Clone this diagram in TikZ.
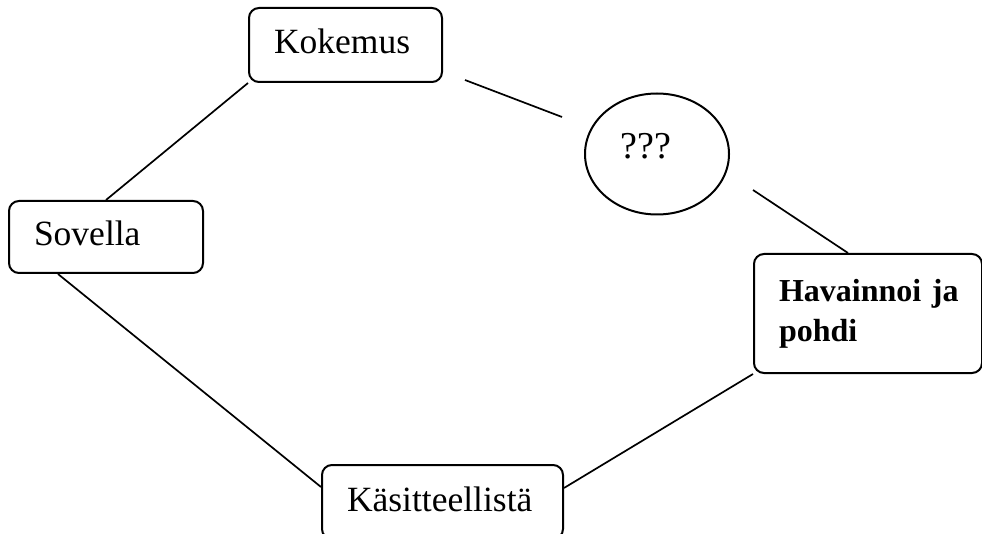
\documentclass[tikz,border=0pt]{standalone}
\usepackage{fontspec}
\setmainfont{Liberation Serif}
\usetikzlibrary{shapes.geometric,calc}
\tikzset{
  stagebox/.style={draw, rounded corners=10pt, line width=2pt, inner xsep=25pt, inner ysep=0pt,
    align=left, anchor=north west, font=\fontsize{35.5}{40}\selectfont},
  oneline/.style={text height=24pt, text depth=6pt},
  conn/.style={line width=1.7pt}
}
\begin{document}
\begin{tikzpicture}[x=1pt,y=-1pt]
\clip (0,0) rectangle (982,534);
\fill[white] (0,0) rectangle (982,534);

\node[stagebox, oneline, text width=143pt, minimum height=74pt] (kok) at (248,7) {Kokemus};
\node[stagebox, oneline, text width=144pt, minimum height=72pt] (sov) at (8,200) {Sovella};
\node[stagebox, oneline, text width=191pt, minimum height=74pt] (kas) at (321,464) {Käsitteellistä};
\node[stagebox, text width=178pt, minimum height=119pt, font=\fontsize{32}{40}\selectfont\bfseries] (hav) at (753,253) {Havainnoi~ja\\pohdi};
\node[ellipse, draw, line width=2pt, minimum width=144pt, minimum height=121pt, inner sep=0pt] (q) at (657,154) {};
\node[anchor=base, inner sep=0pt, font=\fontsize{38}{40}\selectfont] (qt) at (646,159) {???};

\coordinate (k1) at (465,80);
\coordinate (k2) at (562,117);
\coordinate (h1) at (753,190);

\draw[conn] (kok.south west) -- (sov.north);
\draw[conn] (k1) -- (k2);
\draw[conn] (h1) -- ($(hav.north west)+(95,0)$);
\draw[conn] ($(sov.south west)+(50,0)$) -- ($(kas.west)+(0,-15)$);
\draw[conn] ($(kas.east)+(0,-14)$) -- (hav.south west);
\end{tikzpicture}
\end{document}
